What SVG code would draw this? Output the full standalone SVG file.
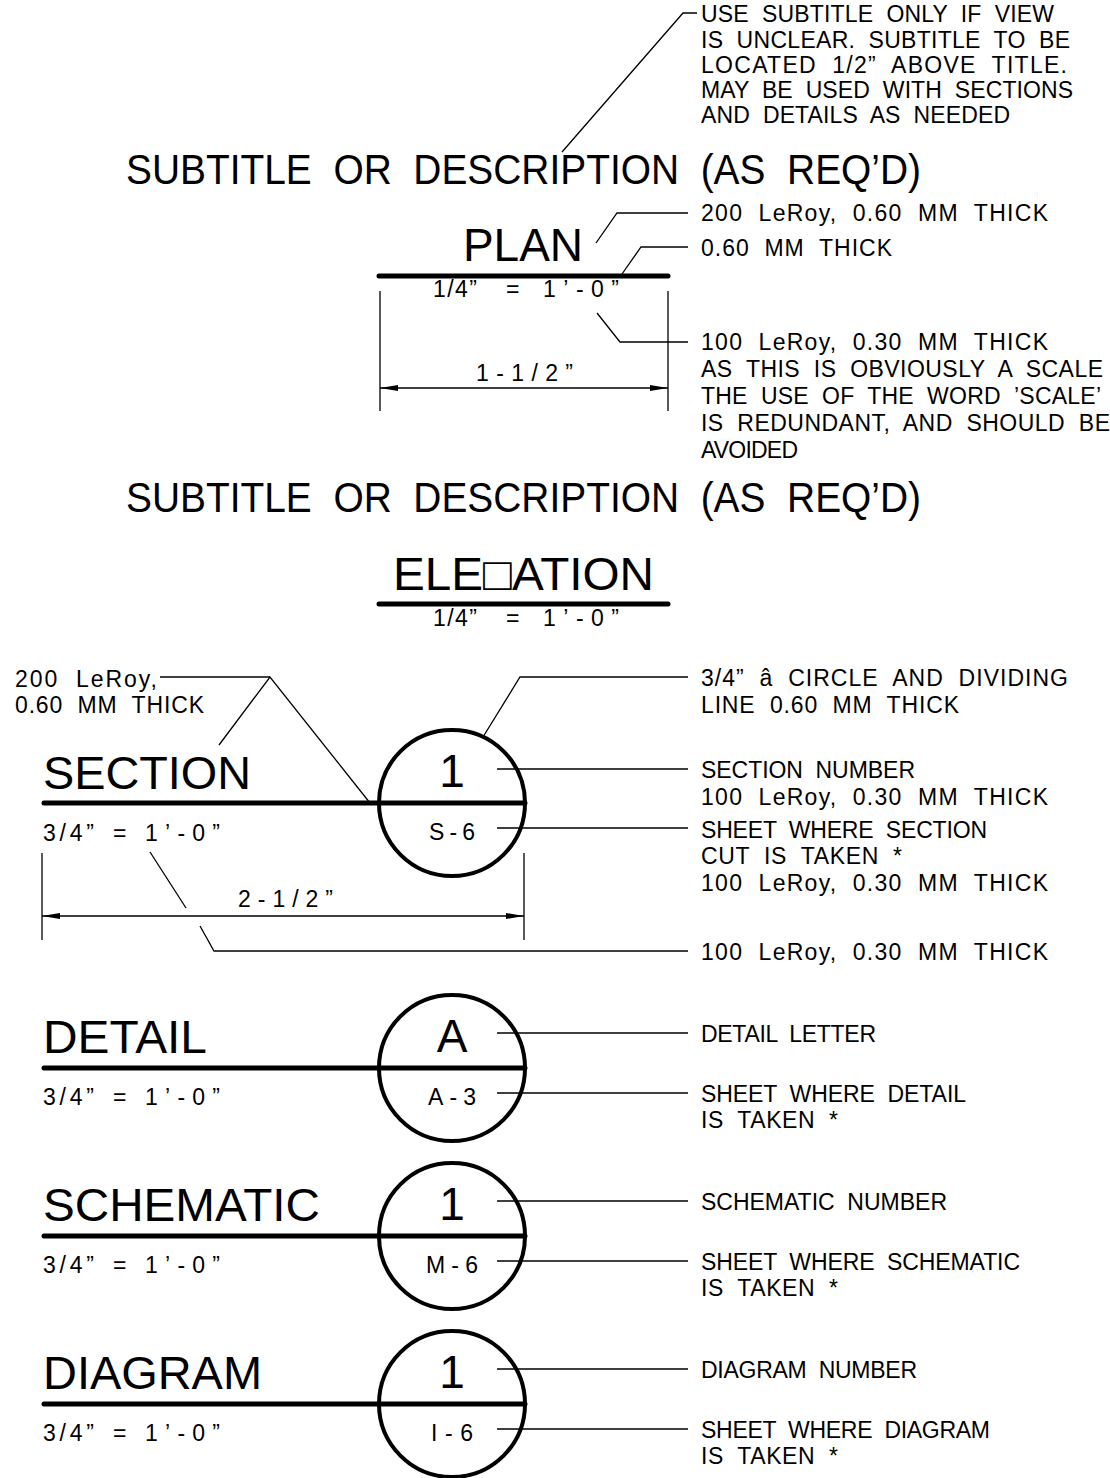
<svg xmlns="http://www.w3.org/2000/svg" width="1110" height="1478" viewBox="0 0 1110 1478">
<defs>
<style>
.t{font-family:"Liberation Sans",Arial,sans-serif;font-size:23px;fill:#000;white-space:pre}
.sub{font-family:"Liberation Sans",Arial,sans-serif;font-size:43px;fill:#000;white-space:pre}
.ttl{font-family:"Liberation Sans",Arial,sans-serif;font-size:46px;fill:#000}
.c{text-anchor:middle}
.ln{stroke:#000;stroke-width:1.3;fill:none}
.thk{stroke:#000;stroke-width:5;stroke-linecap:round;fill:none}
.circ{stroke:#000;stroke-width:4;fill:none}
</style>
<marker id="arr" viewBox="0 0 18 7" refX="18" refY="3.5" markerWidth="18" markerHeight="7" markerUnits="userSpaceOnUse" orient="auto-start-reverse">
<path d="M0,0.5 L18,3.5 L0,6.5 z" fill="#000"/>
</marker>
</defs>
<rect width="1110" height="1478" fill="#fff"/>

<g id="connectors">
<polyline class="ln" points="562,152 683,13 697,13"/>
<polyline class="ln" points="596,243 617,213 688,213"/>
<polyline class="ln" points="622,274 641,247 688,247"/>
<polyline class="ln" points="597,313 620,342 688,342"/>
<polyline class="ln" points="160,677 270,677"/>
<polyline class="ln" points="219,745 270,677 370,803"/>
<polyline class="ln" points="483,737 520,677 688,677"/>
<line class="ln" x1="497" y1="769" x2="688" y2="769"/>
<line class="ln" x1="497" y1="828" x2="688" y2="828"/>
<line class="ln" x1="150" y1="852" x2="186" y2="908"/>
<polyline class="ln" points="200,926 214,951 688,951"/>
<line class="ln" x1="497" y1="1033" x2="688" y2="1033"/>
<line class="ln" x1="497" y1="1093" x2="688" y2="1093"/>
<line class="ln" x1="497" y1="1201" x2="688" y2="1201"/>
<line class="ln" x1="497" y1="1261" x2="688" y2="1261"/>
<line class="ln" x1="497" y1="1369" x2="688" y2="1369"/>
<line class="ln" x1="497" y1="1429" x2="688" y2="1429"/>
</g>

<g id="note-subtitle">
<text class="t" x="701" y="22" textLength="353">USE  SUBTITLE  ONLY  IF  VIEW</text>
<text class="t" x="701" y="48" textLength="369">IS  UNCLEAR.  SUBTITLE  TO  BE</text>
<text class="t" x="701" y="73" textLength="366">LOCATED  1/2”  ABOVE  TITLE.</text>
<text class="t" x="701" y="98" textLength="372">MAY  BE  USED  WITH  SECTIONS</text>
<text class="t" x="701" y="123" textLength="309">AND  DETAILS  AS  NEEDED</text>
</g>

<g id="subtitle-1">
<text class="sub" x="126" y="184" textLength="795" lengthAdjust="spacingAndGlyphs">SUBTITLE  OR  DESCRIPTION  (AS  REQ’D)</text>
</g>

<g id="plan">
<text class="ttl c" x="523" y="261">PLAN</text>
<line class="thk" x1="379" y1="276" x2="668" y2="276"/>
<text class="t" x="433" y="297" textLength="44">1/4”</text>
<text class="t" x="506" y="297">=</text>
<text class="t" x="543" y="297" textLength="76">1’-0”</text>
</g>

<g id="plan-dimension">
<line class="ln" x1="380" y1="291" x2="380" y2="411"/>
<line class="ln" x1="668" y1="291" x2="668" y2="411"/>
<line class="ln" x1="380" y1="388" x2="668" y2="388" marker-start="url(#arr)" marker-end="url(#arr)"/>
<text class="t" x="476" y="381" textLength="97">1-1/2”</text>
</g>

<g id="plan-notes">
<text class="t" x="701" y="221" textLength="347">200  LeRoy,  0.60  MM  THICK</text>
<text class="t" x="701" y="256" textLength="191">0.60  MM  THICK</text>
<text class="t" x="701" y="350" textLength="347">100  LeRoy,  0.30  MM  THICK</text>
<text class="t" x="701" y="377" textLength="402">AS  THIS  IS  OBVIOUSLY  A  SCALE</text>
<text class="t" x="701" y="404" textLength="400">THE  USE  OF  THE  WORD  ’SCALE’</text>
<text class="t" x="701" y="431" textLength="409">IS  REDUNDANT,  AND  SHOULD  BE</text>
<text class="t" x="701" y="458" textLength="97">AVOIDED</text>
</g>

<g id="subtitle-2">
<text class="sub" x="126" y="512" textLength="795" lengthAdjust="spacingAndGlyphs">SUBTITLE  OR  DESCRIPTION  (AS  REQ’D)</text>
</g>

<g id="elevation">
<text class="ttl" x="393" y="590" textLength="261" lengthAdjust="spacingAndGlyphs">ELE□ATION</text>
<line class="thk" x1="379" y1="604" x2="668" y2="604"/>
<text class="t" x="433" y="626" textLength="44">1/4”</text>
<text class="t" x="506" y="626">=</text>
<text class="t" x="543" y="626" textLength="76">1’-0”</text>
</g>

<g id="section">
<text class="t" x="15" y="687" textLength="142">200  LeRoy,</text>
<text class="t" x="15" y="713" textLength="189">0.60  MM  THICK</text>
<text class="ttl" x="43" y="789" textLength="208" lengthAdjust="spacingAndGlyphs">SECTION</text>
<line class="thk" x1="44" y1="803" x2="525" y2="803"/>
<circle class="circ" cx="452" cy="803" r="73"/>
<text class="ttl c" x="452" y="787">1</text>
<text class="t" x="429" y="840" textLength="46">S-6</text>
<text class="t" x="43" y="841" textLength="51">3/4”</text>
<text class="t" x="113" y="841">=</text>
<text class="t" x="145" y="841" textLength="75">1’-0”</text>
</g>

<g id="section-dimension">
<line class="ln" x1="42" y1="853" x2="42" y2="940"/>
<line class="ln" x1="524" y1="853" x2="524" y2="940"/>
<line class="ln" x1="42" y1="916" x2="524" y2="916" marker-start="url(#arr)" marker-end="url(#arr)"/>
<text class="t" x="238" y="907" textLength="95">2-1/2”</text>
</g>

<g id="section-notes">
<text class="t" x="701" y="686" textLength="367">3/4”  â  CIRCLE  AND  DIVIDING</text>
<text class="t" x="701" y="713" textLength="258">LINE  0.60  MM  THICK</text>
<text class="t" x="701" y="778" textLength="214">SECTION  NUMBER</text>
<text class="t" x="701" y="805" textLength="347">100  LeRoy,  0.30  MM  THICK</text>
<text class="t" x="701" y="838" textLength="286">SHEET  WHERE  SECTION</text>
<text class="t" x="701" y="864" textLength="201">CUT  IS  TAKEN  *</text>
<text class="t" x="701" y="891" textLength="347">100  LeRoy,  0.30  MM  THICK</text>
<text class="t" x="701" y="960" textLength="347">100  LeRoy,  0.30  MM  THICK</text>
</g>

<g id="detail">
<text class="ttl" x="43" y="1053" textLength="164" lengthAdjust="spacingAndGlyphs">DETAIL</text>
<line class="thk" x1="44" y1="1068" x2="525" y2="1068"/>
<circle class="circ" cx="452" cy="1068" r="73"/>
<text class="ttl c" x="452" y="1052">A</text>
<text class="t" x="428" y="1105" textLength="48">A-3</text>
<text class="t" x="43" y="1105" textLength="51">3/4”</text>
<text class="t" x="113" y="1105">=</text>
<text class="t" x="145" y="1105" textLength="75">1’-0”</text>
<text class="t" x="701" y="1042" textLength="175">DETAIL  LETTER</text>
<text class="t" x="701" y="1102" textLength="265">SHEET  WHERE  DETAIL</text>
<text class="t" x="701" y="1128" textLength="137">IS  TAKEN  *</text>
</g>

<g id="schematic">
<text class="ttl" x="43" y="1221" textLength="277" lengthAdjust="spacingAndGlyphs">SCHEMATIC</text>
<line class="thk" x1="44" y1="1236" x2="525" y2="1236"/>
<circle class="circ" cx="452" cy="1236" r="73"/>
<text class="ttl c" x="452" y="1220">1</text>
<text class="t" x="426" y="1273" textLength="52">M-6</text>
<text class="t" x="43" y="1273" textLength="51">3/4”</text>
<text class="t" x="113" y="1273">=</text>
<text class="t" x="145" y="1273" textLength="75">1’-0”</text>
<text class="t" x="701" y="1210" textLength="246">SCHEMATIC  NUMBER</text>
<text class="t" x="701" y="1270" textLength="319">SHEET  WHERE  SCHEMATIC</text>
<text class="t" x="701" y="1296" textLength="137">IS  TAKEN  *</text>
</g>

<g id="diagram">
<text class="ttl" x="43" y="1389" textLength="219" lengthAdjust="spacingAndGlyphs">DIAGRAM</text>
<line class="thk" x1="44" y1="1404" x2="525" y2="1404"/>
<circle class="circ" cx="452" cy="1404" r="73"/>
<text class="ttl c" x="452" y="1388">1</text>
<text class="t" x="431" y="1441" textLength="42">I-6</text>
<text class="t" x="43" y="1441" textLength="51">3/4”</text>
<text class="t" x="113" y="1441">=</text>
<text class="t" x="145" y="1441" textLength="75">1’-0”</text>
<text class="t" x="701" y="1378" textLength="216">DIAGRAM  NUMBER</text>
<text class="t" x="701" y="1438" textLength="289">SHEET  WHERE  DIAGRAM</text>
<text class="t" x="701" y="1464" textLength="137">IS  TAKEN  *</text>
</g>
</svg>
